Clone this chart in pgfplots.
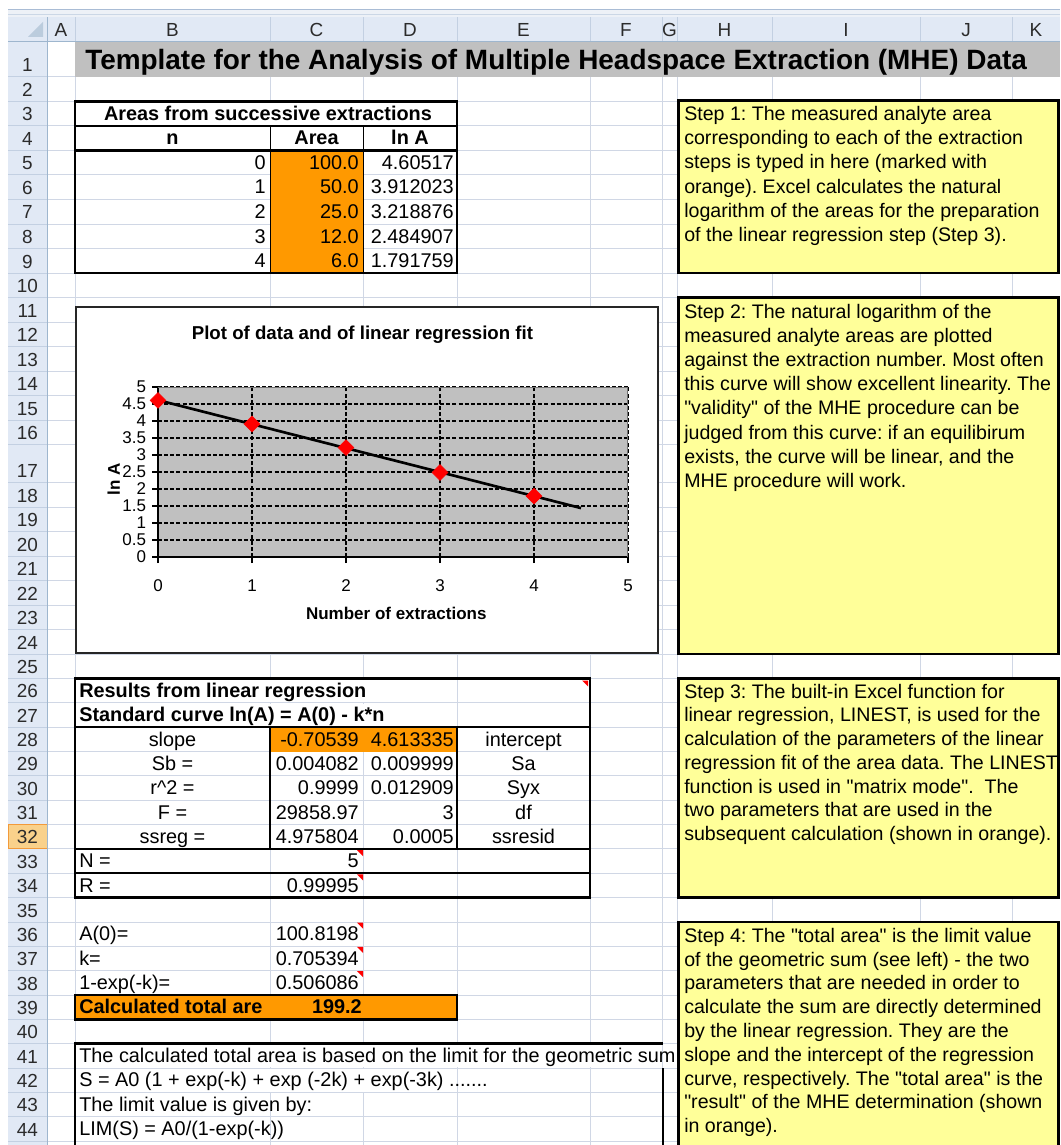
\documentclass[border=0pt]{standalone}
\usepackage{pgfplots}
\pgfplotsset{compat=1.18}
\usepackage{fontspec}
\setmainfont{Liberation Sans}[Ligatures=TeXOff]
\setsansfont{Liberation Sans}[Ligatures=TeXOff]
\definecolor{gridc}{HTML}{D0D7E5}
\definecolor{hdrfill}{HTML}{E1E9F5}
\definecolor{hdrsep}{HTML}{C3D0E2}
\definecolor{hdredge}{HTML}{9EB6CE}
\definecolor{hdrtext}{HTML}{2B2B2B}
\definecolor{xlorange}{HTML}{FF9900}
\definecolor{noteyellow}{HTML}{FFFF99}
\definecolor{titlegray}{HTML}{C0C0C0}
\definecolor{selfill}{HTML}{F9D18B}
\definecolor{seledge}{HTML}{F29A3A}
\definecolor{plotgray}{HTML}{C0C0C0}
\definecolor{stripc}{HTML}{EDF1F7}
\definecolor{stripl}{HTML}{A9BCD5}
\newcommand{\cf}{\fontsize{14.9}{17}\selectfont}
\newcommand{\tf}{\fontsize{14.7}{17}\selectfont}
\newcommand{\hf}{\fontsize{14.2}{16}\selectfont}
\newcommand{\CL}[3]{\node[anchor=base west,inner sep=0pt,font=\cf] at (#1,#2) {#3};}
\newcommand{\TL}[3]{\node[anchor=base west,inner sep=0pt,font=\tf] at (#1,#2) {#3};}
\newcommand{\CR}[3]{\node[anchor=base east,inner sep=0pt,font=\cf] at (#1,#2) {#3};}
\newcommand{\CC}[3]{\node[anchor=base,inner sep=0pt,font=\cf] at (#1,#2) {#3};}
\newcommand{\HV}[3]{\fill[white] (#1-1.2,#2+0.7) rectangle (#1+1.2,#3-0.7);}
\newcommand{\NT}[2]{\fill[red] (#1-6,#2) -- (#1,#2) -- (#1,#2+6) -- cycle;}
\frenchspacing
\begin{document}
\frenchspacing
\begin{tikzpicture}
\begin{scope}[x=0.75pt,y=-0.75pt]
\path[use as bounding box] (0,0) rectangle (1060,1145);
\clip (0,0) rectangle (1060,1145);
\fill[white] (0,0) rectangle (1060,1145);
% top strip
\fill[stripc] (8,9.5) rectangle (1060,17.5);
\draw[stripl,line width=0.75pt] (8,9.5) -- (1060,9.5);
\draw[stripl!60,line width=0.75pt] (8,15) -- (1060,15);
% grid verticals
\foreach \x in {75,270,363,457,590,662,677,772,920,1012}
  \draw[gridc,line width=0.75pt] (\x,42) -- (\x,1145);
% headers
\fill[hdrfill] (8,17.5) rectangle (47,1145);
\fill[hdrfill] (8,17.5) rectangle (1060,42);
\fill[selfill] (8,824.6) rectangle (47,848.95);
\foreach \n/\b in {1/77,2/101.5,3/126,4/150.5,5/175,6/199.5,7/224,8/248.5,9/273,10/297.5,11/322,12/346.5,13/371,14/395.5,15/420,16/444.5,17/482.5,18/507,19/531.5,20/556,21/580.5,22/605,23/629.5,24/654,25/678.5,26/702.85,27/727.2,28/751.55,29/775.9,30/800.25,31/824.6,32/848.95,33/873.3,34/897.65,35/922,36/946.35,37/970.7,38/995.05,39/1019.4,40/1043.75,41/1068.1,42/1092.45,43/1116.8,44/1141.15}{
  \draw[gridc,line width=0.75pt] (47,\b) -- (1060,\b);
  \draw[hdrsep,line width=0.75pt] (8,\b) -- (47,\b);
  \node[anchor=base,inner sep=0pt,font=\hf,text=hdrtext] at (27.5,\b-5) {\n};
}
\draw[seledge,line width=0.75pt] (8,824.6) rectangle (47,848.95);
\foreach \x in {47,75,270,363,457,590,662,677,772,920,1012}
  \draw[hdrsep,line width=0.75pt] (\x,17.5) -- (\x,42);
\draw[hdredge,line width=0.75pt] (8,42) -- (1060,42);
\draw[hdredge,line width=0.75pt] (47,17.5) -- (47,1145);
\fill[hdredge!70] (43,22) -- (43,37) -- (28,37) -- cycle;
\foreach \c/\x in {A/61,B/172.5,C/316.5,D/410,E/523.5,F/626,G/669.5,H/724.5,I/846,J/966,K/1036}
  \node[anchor=base,inner sep=0pt,font=\hf,text=hdrtext] at (\x,37) {\c};
% title row
\fill[titlegray] (75,42.4) rectangle (1060,77.4);
\node[anchor=base west,inner sep=0pt,font=\bfseries\fontsize{20.95}{24}\selectfont] at (85,70) {Template for the Analysis of Multiple Headspace Extraction (MHE) Data};
% top table
\fill[xlorange] (270,150.5) rectangle (363,273);
\HV{270}{101.5}{126} \HV{363}{101.5}{126}
\draw[line width=0.75pt] (270,126) -- (270,273) (363,126) -- (363,273);
\draw[line width=1.9pt] (75,101.5) rectangle (457,273);
\draw[line width=1.9pt] (75,126) -- (457,126) (75,150.5) -- (457,150.5);
\CC{268}{120.5}{\bfseries Areas from successive extractions}
\CC{172.5}{145}{\bfseries n} \CC{316.5}{145}{\bfseries Area} \CC{410}{145}{\bfseries ln A}
\CR{266}{169.5}{0} \CR{359}{169.5}{100.0} \CR{454}{169.5}{4.60517}
\CR{266}{194}{1} \CR{359}{194}{50.0} \CR{454}{194}{3.912023}
\CR{266}{218.5}{2} \CR{359}{218.5}{25.0} \CR{454}{218.5}{3.218876}
\CR{266}{243}{3} \CR{359}{243}{12.0} \CR{454}{243}{2.484907}
\CR{266}{267.5}{4} \CR{359}{267.5}{6.0} \CR{454}{267.5}{1.791759}
% chart frame
\fill[white] (76,307) rectangle (658,653);
\draw[black!85,line width=1.1pt] (76,307) rectangle (658,653);
\coordinate (porig) at (158,557);
% results table
\fill[xlorange] (270,727.2) rectangle (457,751.55);
\HV{270}{678.5}{702.85} \HV{363}{678.5}{702.85}
\HV{270}{702.85}{727.2} \HV{363}{702.85}{727.2}
\draw[line width=1.9pt] (75,678.5) rectangle (590,848.95);
\draw[line width=1.9pt] (75,727.2) -- (590,727.2);
\draw[line width=1.9pt] (270,727.2) -- (270,848.95) (457,727.2) -- (457,848.95);
\draw[line width=1.9pt] (75,848.95) rectangle (590,897.65);
\draw[line width=1.5pt] (75,873.3) -- (590,873.3);
\CL{79}{697.35}{\bfseries Results from linear regression}
\CL{79}{721.7}{\bfseries Standard curve ln(A) = A(0) - k*n}
\CC{172.5}{746.05}{slope} \CR{359}{746.05}{-0.70539} \CR{454}{746.05}{4.613335} \CC{523.5}{746.05}{intercept}
\CC{172.5}{770.4}{Sb =} \CR{359}{770.4}{0.004082} \CR{454}{770.4}{0.009999} \CC{523.5}{770.4}{Sa}
\CC{172.5}{794.75}{r\textasciicircum 2 =} \CR{359}{794.75}{0.9999} \CR{454}{794.75}{0.012909} \CC{523.5}{794.75}{Syx}
\CC{172.5}{819.1}{F =} \CR{359}{819.1}{29858.97} \CR{454}{819.1}{3} \CC{523.5}{819.1}{df}
\CC{172.5}{843.45}{ssreg =} \CR{359}{843.45}{4.975804} \CR{454}{843.45}{0.0005} \CC{523.5}{843.45}{ssresid}
\CL{79}{867.8}{N =} \CR{359}{867.8}{5}
\CL{79}{892.15}{R =} \CR{359}{892.15}{0.99995}
\NT{588}{680.5} \NT{363}{850} \NT{363}{874.3}
% values
\CL{79}{940.85}{A(0)=} \CR{359}{940.85}{100.8198}
\CL{79}{965.2}{k=} \CR{359}{965.2}{0.705394}
\CL{79}{989.55}{1-exp(-k)=} \CR{359}{989.55}{0.506086}
\NT{363}{922.5} \NT{363}{946.85} \NT{363}{971.2}
\fill[xlorange] (75,995.05) rectangle (457,1019.4);
\draw[line width=1.9pt] (75,995.05) rectangle (457,1019.4);
\CL{79}{1013.9}{\bfseries Calculated total are} \CR{362}{1013.9}{\bfseries 199.2}
% explanation
\HV{270}{1043.75}{1068.1} \HV{363}{1043.75}{1068.1} \HV{457}{1043.75}{1068.1} \HV{590}{1043.75}{1068.1}
\HV{270}{1068.1}{1092.45} \HV{363}{1068.1}{1092.45}
\CL{79}{1062.6}{The calculated total area is based on the limit for the geometric sum}
\CL{79}{1086.95}{S = A0 (1 + exp(-k) + exp (-2k) + exp(-3k) .......}
\CL{79}{1111.3}{The limit value is given by:}
\CL{79}{1135.65}{LIM(S) = A0/(1-exp(-k))}
\draw[line width=1.9pt] (75,1150) -- (75,1043.75) -- (663,1043.75);
\draw[line width=1.9pt] (663,1068.1) -- (663,1150);
% step boxes
\filldraw[fill=noteyellow,draw=black,line width=1.9pt] (678.5,100.5) rectangle (1058.5,273);
\filldraw[fill=noteyellow,draw=black,line width=1.9pt] (678.5,297.5) rectangle (1058.5,654);
\filldraw[fill=noteyellow,draw=black,line width=1.9pt] (678.5,678.5) rectangle (1058.5,897.5);
\filldraw[fill=noteyellow,draw=black,line width=1.9pt] (678.5,922) rectangle (1058.5,1160);
\TL{684}{120.8}{Step 1: The measured analyte area}
\TL{684}{144.9}{corresponding to each of the extraction}
\TL{684}{168.9}{steps is typed in here (marked with}
\TL{684}{193.0}{orange). Excel calculates the natural}
\TL{684}{217.0}{logarithm of the areas for the preparation}
\TL{684}{241.1}{of the linear regression step (Step 3).}
\TL{684}{318.6}{Step 2: The natural logarithm of the}
\TL{684}{342.7}{measured analyte areas are plotted}
\TL{684}{366.8}{against the extraction number. Most often}
\TL{684}{390.8}{this curve will show excellent linearity. The}
\TL{684}{414.9}{"validity" of the MHE procedure can be}
\TL{684}{439.0}{judged from this curve: if an equilibirum}
\TL{684}{463.0}{exists, the curve will be linear, and the}
\TL{684}{487.1}{MHE procedure will work.}
\TL{684}{698.0}{Step 3: The built-in Excel function for}
\TL{684}{721.7}{linear regression, LINEST, is used for the}
\TL{684}{745.5}{calculation of the parameters of the linear}
\TL{684}{769.2}{regression fit of the area data. The LINEST}
\TL{684}{793.0}{function is used in "matrix mode".\ \ The}
\TL{684}{816.7}{two parameters that are used in the}
\TL{684}{840.5}{subsequent calculation (shown in orange).}
\TL{684}{942.2}{Step 4: The "total area" is the limit value}
\TL{684}{966.0}{of the geometric sum (see left) - the two}
\TL{684}{989.8}{parameters that are needed in order to}
\TL{684}{1013.6}{calculate the sum are directly determined}
\TL{684}{1037.4}{by the linear regression. They are the}
\TL{684}{1061.2}{slope and the intercept of the regression}
\TL{684}{1085.0}{curve, respectively. The "total area" is the}
\TL{684}{1108.8}{"result" of the MHE determination (shown}
\TL{684}{1132.6}{in orange).}
\end{scope}
\begin{axis}[
  at={(porig)}, anchor=south west,
  scale only axis, width=352.5pt, height=127.5pt,
  xmin=0, xmax=5, ymin=0, ymax=5,
  xtick={0,1,2,3,4,5}, ytick={0,0.5,...,5},
  /pgf/number format/assume math mode=true,
  axis x line*=bottom, axis y line*=left,
  axis line style={black,line width=1.1pt},
  tick align=outside, major tick length=4.5pt,
  tick style={black,line width=0.9pt},
  grid=major,
  major grid style={black,line width=0.8pt,dash pattern=on 3pt off 1.6pt},
  axis background/.style={fill=plotgray},
  ticklabel style={font=\fontsize{12.75}{14}\selectfont},
  xticklabel style={yshift=-9pt},
  yticklabel style={xshift=-1pt},
  title={Plot of data and of linear regression fit},
  title style={at={(axis description cs:0.435,1.259)},anchor=center,yshift=0pt,font=\bfseries\fontsize{14}{16}\selectfont},
  xlabel={Number of extractions},
  xlabel style={at={(axis description cs:0.507,-0.329)},anchor=center,font=\bfseries\fontsize{12.75}{14}\selectfont},
  ylabel={ln A},
  ylabel style={at={(axis description cs:-0.094,0.456)},anchor=center,font=\bfseries\fontsize{12.75}{14}\selectfont},
  clip=false,
]
\addplot[only marks, mark=square*, mark size=4.2pt, mark options={rotate=45, fill=red, draw=red}] coordinates {(0,4.60517) (1,3.912023) (2,3.218876) (3,2.484907) (4,1.791759)};
\addplot[black, line width=2pt, no marks] coordinates {(0,4.613335) (4.5,1.439080)};
\draw[black!55, line width=0.75pt] (rel axis cs:0,1) -- (rel axis cs:1,1) -- (rel axis cs:1,0);
\end{axis}
\end{tikzpicture}
\end{document}
